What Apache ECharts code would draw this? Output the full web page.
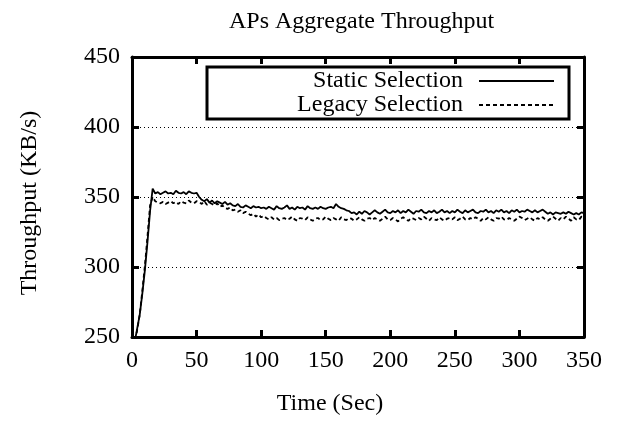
<!DOCTYPE html>
<html>
<head>
<meta charset="utf-8">
<script src="https://cdn.jsdelivr.net/npm/echarts@6/dist/echarts.min.js"></script>
<style>html,body{margin:0;padding:0;background:#fff}#c{width:618px;height:421px}</style>
</head>
<body>
<div id="c"></div>
<script>
const titleText = 'APs Aggregate Throughput';
const xName = 'Time (Sec)';
const yName = 'Throughput (KB/s)';
const seriesNames = ['Static Selection', 'Legacy Selection'];
const xTicks = [0, 50, 100, 150, 200, 250, 300, 350];
const yTicks = [250, 300, 350, 400, 450];

const times = [0,2,4,6,8,10,12,14,16,18,20,22,24,26,28,30,32,34,36,38,40,42,44,46,48,50,
52,54,56,58,60,62,64,66,68,70,72,74,76,78,80,82,84,86,88,90,92,94,96,98,100,
102,104,106,108,110,112,114,116,118,120,122,124,126,128,130,132,134,136,138,140,142,144,146,148,150,
152,154,156,158,160,162,164,166,168,170,172,174,176,178,180,182,184,186,188,190,192,194,196,198,200,
202,204,206,208,210,212,214,216,218,220,222,224,226,228,230,232,234,236,238,240,242,244,246,248,250,
252,254,256,258,260,262,264,266,268,270,272,274,276,278,280,282,284,286,288,290,292,294,296,298,300,
302,304,306,308,310,312,314,316,318,320,322,324,326,328,330,332,334,336,338,340,342,344,346,348,350];

const staticSel = [235,246,256,266,281,298,318,340,356,
352.5,353.5,352,353,354,352.5,353,352,354.5,353,352.5,353.5,352,354,353,352.5,353,
350,348,347,348.5,346,347.5,345.5,347,346,345,346.5,344.5,345.5,
344,343.5,345,343,342.5,344,343,342,343.5,342.5,343,342,
342.5,341.5,343,342,341,343.5,342,341.5,342.5,344,341.5,342.5,341,343,342,342.5,341,343.5,342,341.5,342.5,341.5,343,342,341.5,342.5,343,342,345,343,342,341.5,340.5,
340,338.5,339,337.5,339.5,338,340,339,337.5,339,340.5,339,338,339.5,341,339,338.5,340,339,340.5,
338.5,340,339,341,339.5,338,340,339.5,341,339,338.5,340,339,340.5,338.5,339.5,341,339,340,338.5,
340,339,341,339.5,338.5,340.5,339,340,341,339,338.5,340,339.5,341,339,340,338.5,340.5,339.5,341,
339,340,338.5,340.5,339.5,341,339,340,339.5,341,340,339,340.5,339,340,341,339.5,338,339,337.5,
339,338.5,338,339,338,339.5,338.5,337.5,338.5,337.5,339,338.5];

const legacySel = [233,244,255,266,283,301,322,344,350,347,
346,345.5,346.5,345,346,347,345.5,346.5,345,347,346,345.5,347.5,346,345.5,347,
346.5,345,347,344.5,346,345,344,345.5,
343,344,342,341.5,342.5,340.5,341,339.5,340.5,338.5,339.5,338,
337,338,336,337.5,335.5,336.5,335,334,335.5,334,335,333.5,334.5,
335,333.5,334.5,336,334,333,335,334.5,333.5,335.5,334,333,334.5,335,333.5,334,336,334.5,333.5,335,
334,333,335.5,334,333.5,335,334.5,333,334,335.5,334,333,334.5,335,333.5,335,334,333,334.5,336,
334,333.5,335,334,332.5,334.5,335.5,334,333,335,334.5,333.5,335,334,336,334.5,333,335,334,333.5,
335.5,334,333,334.5,335,334,335.5,333.5,334.5,336,334,333.5,335,334,335.5,334.5,333,335,334,335.5,
334,333,335,334.5,336,334,333.5,335,334,333,334.5,336,335,333.5,334.5,335.5,334,333,335,334,
335.5,334,333,334.5,336,334.5,333,335,334,336,334.5,333,335.5,334,333.5,336,335];

const FONT = '"Liberation Serif", "DejaVu Serif", serif';
const chart = echarts.init(document.getElementById('c'), null, {renderer: 'canvas'});

const pair = (vals) => times.map((t, i) => [t, vals[i]]);

const axisCommon = {
  type: 'value',
  axisLine: {show: true, onZero: false, lineStyle: {color: '#000', width: 3}},
  axisTick: {show: true, inside: true, length: 7, lineStyle: {color: '#000', width: 3}},
  splitLine: {show: false}
};

chart.setOption({
  animation: false,
  backgroundColor: '#fff',
  title: {
    text: titleText, left: 224, top: 5,
    textStyle: {fontFamily: FONT, fontSize: 24, fontWeight: 'normal', color: '#000'}
  },
  grid: {left: 132, right: 34, top: 57, bottom: 80, containLabel: false},
  legend: {
    data: seriesNames,
    left: 207, top: 67,
    orient: 'vertical', align: 'right',
    itemWidth: 75, itemHeight: 14, itemGap: 0,
    padding: [2, 14, 2, 8],
    borderColor: '#000', borderWidth: 3, backgroundColor: '#fff',
    itemStyle: {opacity: 0},
    formatter: '{a|{name}}',
    textStyle: {
      fontFamily: FONT, fontSize: 24, color: '#000',
      rich: {a: {width: 248, align: 'right', fontFamily: FONT, fontSize: 24, lineHeight: 24, color: '#000', padding: [0, 11, 0, 0]}}
    }
  },
  xAxis: [
    Object.assign({}, axisCommon, {
      position: 'bottom', min: xTicks[0], max: xTicks[xTicks.length - 1], interval: 50,
      name: xName, nameLocation: 'middle', nameGap: 55,
      nameTextStyle: {fontFamily: FONT, fontSize: 24, color: '#000', padding: [0, 56, 0, 0]},
      axisLabel: {fontFamily: FONT, fontSize: 24, color: '#000', margin: 12}
    }),
    Object.assign({}, axisCommon, {
      position: 'top', min: xTicks[0], max: xTicks[xTicks.length - 1], interval: 50,
      axisLabel: {show: false}
    })
  ],
  yAxis: [
    Object.assign({}, axisCommon, {
      position: 'left', min: yTicks[0], max: yTicks[yTicks.length - 1], interval: 50,
      name: yName, nameLocation: 'middle', nameGap: 90,
      nameTextStyle: {fontFamily: FONT, fontSize: 24, color: '#000', padding: [0, 12, 0, 0]},
      axisLabel: {fontFamily: FONT, fontSize: 24, color: '#000', margin: 12},
      splitLine: {show: true, lineStyle: {color: '#000', width: 1, type: [1, 3]}}
    }),
    Object.assign({}, axisCommon, {
      position: 'right', min: yTicks[0], max: yTicks[yTicks.length - 1], interval: 50,
      axisLabel: {show: false}
    })
  ],
  series: [
    {
      name: seriesNames[0], type: 'line', data: pair(staticSel),
      showSymbol: false, symbol: 'none', clip: true,
      lineStyle: {color: '#000', width: 1.8, type: 'solid'}, itemStyle: {color: '#000'}, z: 3
    },
    {
      name: seriesNames[1], type: 'line', data: pair(legacySel),
      showSymbol: false, symbol: 'none', clip: true,
      lineStyle: {color: '#000', width: 1.8, type: [4, 3]}, itemStyle: {color: '#000'}, z: 2
    }
  ]
});
</script>
</body>
</html>
